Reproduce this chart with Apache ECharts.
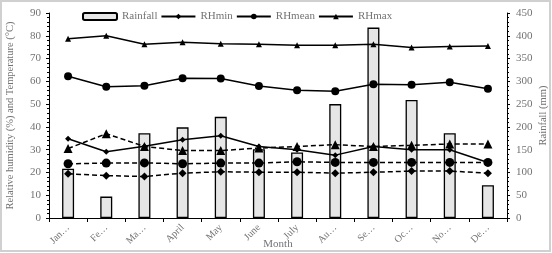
<!DOCTYPE html>
<html>
<head>
<meta charset="utf-8">
<style>
  html, body { margin: 0; padding: 0; background: #fff; }
  #chart { width: 552px; height: 253px; }
</style>
<script src="https://cdn.jsdelivr.net/npm/echarts@6/dist/echarts.min.js"></script>
</head>
<body>
<div id="chart"></div>
<script>
const months = ['Jan…', 'Fe…', 'Ma…', 'April', 'May', 'June', 'July', 'Au…', 'Se…', 'Oc…', 'No…', 'De…'];
const rainfall = [108, 47, 186, 199, 222, 151, 144, 250, 418, 259, 186, 72];
const rhMin = [34.8, 29.1, 31.5, 34.4, 36.1, 31.4, 30.0, 27.6, 31.4, 30.0, 30.0, 24.4];
const rhMean = [62.2, 57.6, 58.1, 61.4, 61.2, 58.0, 56.1, 55.6, 58.7, 58.5, 59.6, 56.7];
const rhMax = [78.7, 80.0, 76.3, 77.2, 76.5, 76.3, 75.8, 75.8, 76.3, 74.9, 75.3, 75.5];
const tMax = [30.5, 37.0, 31.4, 29.6, 29.6, 30.7, 31.4, 32.2, 31.4, 31.9, 32.5, 32.5];
const tMean = [23.8, 24.1, 24.2, 23.8, 24.1, 24.1, 24.7, 24.4, 24.4, 24.4, 24.4, 24.4];
const tMin = [19.4, 18.6, 18.2, 19.7, 20.3, 20.1, 20.1, 19.7, 20.1, 20.6, 20.6, 19.7];

const leftTicks = { min: 0, max: 90, interval: 10 };
const rightTicks = { min: 0, max: 450, interval: 50 };

const font = '"Liberation Serif", "DejaVu Serif", serif';
const grey = '#737373';

const chart = echarts.init(document.getElementById('chart'), null, { renderer: 'canvas' });

const solid = (name, data, symbol, size) => ({
  name,
  type: 'line',
  yAxisIndex: 0,
  data,
  symbol,
  symbolSize: size,
  z: 5,
  lineStyle: { color: '#000', width: 1.5 },
  itemStyle: { color: '#000' }
});

const dashed = (name, data, symbol, size) => ({
  name,
  type: 'line',
  yAxisIndex: 0,
  data,
  symbol,
  symbolSize: size,
  z: 4,
  lineStyle: { color: '#000', width: 1.5, type: [5, 3] },
  itemStyle: { color: '#000' }
});

const axisCommon = {
  axisLine: { show: true, lineStyle: { color: '#000', width: 1 } },
  axisTick: { show: true, length: 3, lineStyle: { color: '#000' } },
  minorTick: { show: true, splitNumber: 5, length: 2, lineStyle: { color: '#000' } },
  splitLine: { show: false },
  axisLabel: { color: grey, fontFamily: font, fontSize: 11 },
  nameLocation: 'middle',
  nameRotate: 90,
  nameMoveOverlap: false,
  nameTextStyle: { color: grey, fontFamily: font, fontSize: 10.5 }
};

chart.setOption({
  backgroundColor: '#fff',
  animation: false,
  graphic: [{
    type: 'rect',
    shape: { x: 1, y: 1, width: 549, height: 250 },
    style: { fill: null, stroke: '#d0d0d0', lineWidth: 2 },
    silent: true
  }],
  legend: {
    data: ['Rainfall', 'RHmin', 'RHmean', 'RHmax'],
    left: 77,
    top: 6,
    itemWidth: 34,
    itemHeight: 7,
    itemGap: 3,
    textStyle: { color: grey, fontFamily: font, fontSize: 11, width: 62 }
  },
  grid: { left: 49, right: 45, top: 13, bottom: 35, containLabel: false, outerBoundsMode: 'none' },
  xAxis: {
    type: 'category',
    data: months,
    boundaryGap: true,
    name: 'Month',
    nameLocation: 'middle',
    nameGap: 21,
    nameMoveOverlap: false,
    nameTextStyle: { color: grey, fontFamily: font, fontSize: 11 },
    axisLine: { show: true, lineStyle: { color: '#000', width: 1 } },
    axisTick: { show: true, length: 4, lineStyle: { color: '#000' } },
    axisLabel: { color: grey, fontFamily: font, fontSize: 10, rotate: 45, interval: 0, margin: 8 }
  },
  yAxis: [
    Object.assign({}, axisCommon, {
      type: 'value',
      position: 'left',
      min: leftTicks.min,
      max: leftTicks.max,
      interval: leftTicks.interval,
      name: 'Relative humidity (%) and Temperature (°C)',
      nameGap: 33,
      axisLabel: Object.assign({}, axisCommon.axisLabel, { margin: 8 })
    }),
    Object.assign({}, axisCommon, {
      type: 'value',
      position: 'right',
      min: rightTicks.min,
      max: rightTicks.max,
      interval: rightTicks.interval,
      name: 'Rainfall (mm)',
      nameGap: 31,
      axisLabel: Object.assign({}, axisCommon.axisLabel, { margin: 9 })
    })
  ],
  series: [
    {
      name: 'Rainfall',
      type: 'bar',
      yAxisIndex: 1,
      data: rainfall,
      barWidth: 12,
      z: 2,
      itemStyle: { color: '#e6e6e6', borderColor: '#000', borderWidth: 1.3 }
    },
    solid('RHmin', rhMin, 'diamond', 6),
    solid('RHmean', rhMean, 'circle', 8),
    solid('RHmax', rhMax, 'triangle', 6),
    dashed('Tmax', tMax, 'triangle', 9),
    dashed('Tmean', tMean, 'circle', 9),
    dashed('Tmin', tMin, 'diamond', 8)
  ]
});
</script>
</body>
</html>
